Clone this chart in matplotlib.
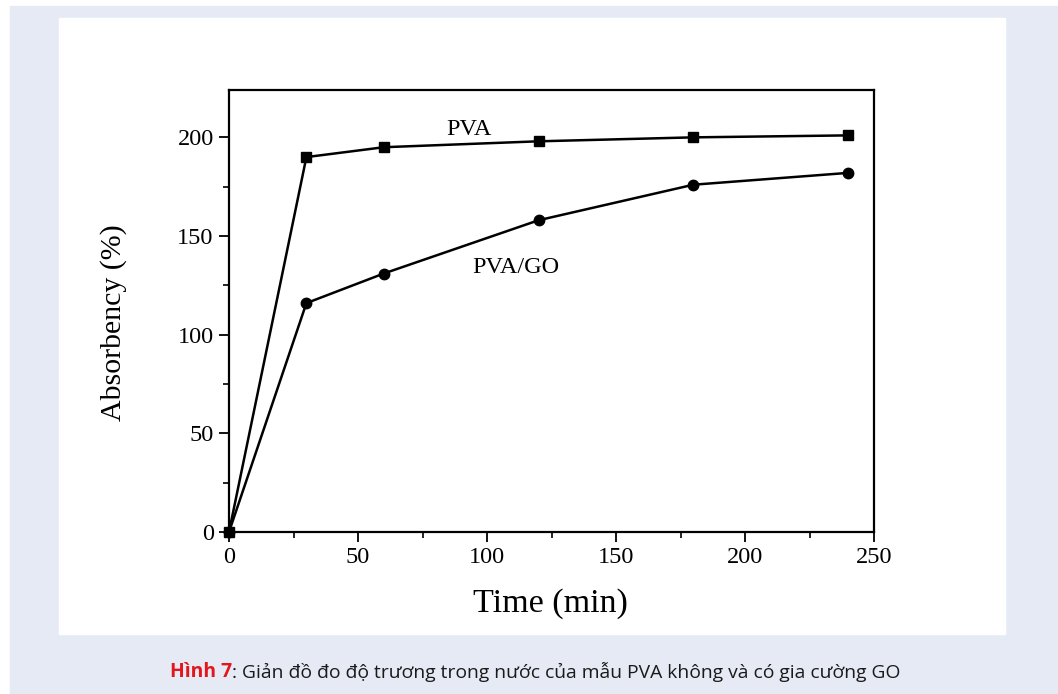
# Swelling (absorbency) of PVA and PVA/GO samples in water over time

import matplotlib
matplotlib.use('Agg')
import matplotlib.pyplot as plt
from matplotlib.patches import Rectangle
from matplotlib.ticker import MultipleLocator

time_min = [0, 30, 60, 120, 180, 240]
pva = [0, 190, 195, 198, 200, 201]
pva_go = [0, 116, 131, 158, 176, 182]

x_ticks = [0, 50, 100, 150, 200, 250]
y_ticks = [0, 50, 100, 150, 200]

serif = ['Liberation Serif', 'DejaVu Serif']

fig = plt.figure(figsize=(10.58, 6.94), dpi=100)
fig.patch.set_facecolor('white')

# page background and white panel behind the chart
fig.patches.append(Rectangle((10/1058, 0), 1 - 10/1058, 1 - 6/694,
                             transform=fig.transFigure, color='#e6eaf5', zorder=-2))
fig.patches.append(Rectangle((59/1058, 1 - 634/694), (1005 - 59)/1058, (634 - 18)/694,
                             transform=fig.transFigure, color='white', zorder=-1))

ax = fig.add_axes([229/1058, 1 - 532/694, (874 - 229)/1058, (532 - 90)/694])
ax.set_facecolor('white')

ax.plot(time_min, pva, color='black', lw=1.8, marker='s', ms=7, clip_on=False)
ax.plot(time_min, pva_go, color='black', lw=1.8, marker='o', ms=7.5, clip_on=False)

ax.set_xlim(0, 250)
ax.set_ylim(0, 224)
ax.set_xticks(x_ticks)
ax.set_yticks(y_ticks)
ax.xaxis.set_minor_locator(MultipleLocator(25))
ax.yaxis.set_minor_locator(MultipleLocator(25))
ax.tick_params(which='major', direction='out', length=7, width=1.3, pad=4)
ax.tick_params(which='minor', direction='out', length=4, width=1.2)
for lab in ax.get_xticklabels() + ax.get_yticklabels():
    lab.set_family(serif)
    lab.set_fontsize(17.5)
for s in ax.spines.values():
    s.set_linewidth(1.6)

ax.set_xlabel('Time (min)', family=serif, fontsize=24.5)
ax.set_ylabel('Absorbency (%)', family=serif, fontsize=21.5)
ax.xaxis.set_label_coords(0.499, -0.128)
ax.yaxis.set_label_coords(-0.158, 0.473)

ax.text(93, 204, 'PVA', family=serif, fontsize=17.5, ha='center', va='center')
ax.text(111, 134, 'PVA/GO', family=serif, fontsize=17.5, ha='center', va='center')

# caption
t1 = fig.text(170/1058, 1 - 672/694, 'Hình 7', color='#e3161d', fontweight='bold',
              family='Open Sans', fontsize=13.9, va='center', ha='left')
ax.annotate(': Giản đồ đo độ trương trong nước của mẫu PVA không và có gia cường GO',
            xy=(1, 0.5), xycoords=t1, va='center', ha='left',
            color='#1a1a1a', family='Open Sans', fontsize=13.9,
            annotation_clip=False)

fig.savefig('out.png', dpi=100)
